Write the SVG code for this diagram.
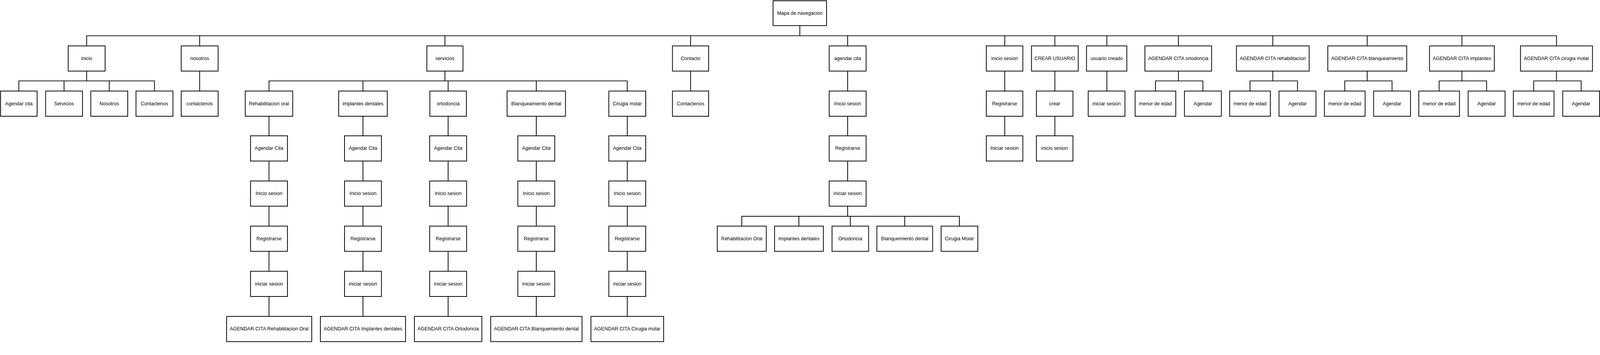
<svg xmlns="http://www.w3.org/2000/svg" width="4247" height="910" viewBox="0 0 4247 910" preserveAspectRatio="xMinYMin meet">
<style>
svg{width:100vw;height:100vh}
.n rect{fill:#fff;stroke:#000;stroke-width:2}
.n text{font-family:"Liberation Sans",Arial,sans-serif;font-size:13px;fill:#000;text-anchor:middle;dominant-baseline:central}
#connectors path{fill:none;stroke:#000;stroke-width:2}
</style>
<rect width="4247" height="910" fill="#fff"/>
<g id="connectors">
<path d="M2123 68V95M230 122V95H4131.5V122M530 95V122M1181 95V122M1833 95V122M2250 95V122M2667 95V122M2800 95V122M2938 95V122M3128 95V122M3378.5 95V122M3629 95V122M3880.5 95V122"/>
<path d="M230 188V215M50 242V215H410V242M170 215V242M290 215V242"/>
<path d="M530 188V242"/>
<path d="M1181 188V215M714 242V215H1665V242M963.5 215V242M1189.5 215V242M1423.5 215V242"/>
<path d="M714 308V841M963.5 308V841M1189.5 308V841M1423.5 308V841M1665 308V841"/>
<path d="M1833 188V242"/>
<path d="M2250 188V575M1969 601V575H2546.5V601M2120.5 575V601M2257 575V601M2401.5 575V601"/>
<path d="M2667 188V361M2800 188V361M2938 188V242"/>
<path d="M3128 188V215M3067 242V215H3193V242"/>
<path d="M3378.5 188V215M3318 242V215H3444V242"/>
<path d="M3629 188V215M3569.5 242V215H3695V242"/>
<path d="M3880.5 188V215M3820 242V215H3946V242"/>
<path d="M4131.5 188V215M4071 242V215H4197V242"/>
</g>
<g id="root" class="n"><rect x="2052" y="2" width="142" height="66"/><text x="2123" y="35">Mapa de navegacion</text></g>
<g id="inicio" class="n"><rect x="181" y="122" width="98" height="67"/><text x="230" y="155.5">inicio</text></g>
<g id="nosotros" class="n"><rect x="481" y="122" width="98" height="67"/><text x="530" y="155.5">nosotros</text></g>
<g id="servicios" class="n"><rect x="1133" y="122" width="96" height="67"/><text x="1181" y="155.5">servicios</text></g>
<g id="contacto" class="n"><rect x="1785" y="122" width="96" height="67"/><text x="1833" y="155.5">Contacto</text></g>
<g id="agendar-cita" class="n"><rect x="2201" y="122" width="98" height="67"/><text x="2250" y="155.5">agendar cita</text></g>
<g id="inicio-sesion" class="n"><rect x="2618" y="122" width="97" height="67"/><text x="2666.5" y="155.5">inicio sesion</text></g>
<g id="crear-usuario" class="n"><rect x="2738" y="122" width="124" height="67"/><text x="2800" y="155.5">CREAR USUARIO</text></g>
<g id="usuario-creado" class="n"><rect x="2884" y="122" width="107" height="67"/><text x="2937.5" y="155.5">usuario creado</text></g>
<g id="ag-ortodoncia" class="n"><rect x="3039" y="122" width="177" height="67"/><text x="3127.5" y="155.5">AGENDAR CITA ortodoncia</text></g>
<g id="ag-rehabilitacion" class="n"><rect x="3282" y="122" width="193" height="67"/><text x="3378.5" y="155.5">AGENDAR CITA rehabilitacion</text></g>
<g id="ag-blanqueamiento" class="n"><rect x="3524.5" y="122" width="209.5" height="67"/><text x="3629.2" y="155.5">AGENDAR CITA blanqueamiento</text></g>
<g id="ag-implantes" class="n"><rect x="3794.5" y="122" width="172" height="67"/><text x="3880.5" y="155.5">AGENDAR CITA implantes</text></g>
<g id="ag-cirugia" class="n"><rect x="4036" y="122" width="191" height="67"/><text x="4131.5" y="155.5">AGENDAR CITA cirugia molar</text></g>

<g id="i-agendar" class="n"><rect x="1.5" y="242" width="97" height="67"/><text x="50" y="275.5">Agendar cita</text></g>
<g id="i-servicios" class="n"><rect x="121" y="242" width="98" height="67"/><text x="170" y="275.5">Servicios</text></g>
<g id="i-nosotros" class="n"><rect x="241" y="242" width="98" height="67"/><text x="290" y="275.5">Nosotros</text></g>
<g id="i-contactenos" class="n"><rect x="361" y="242" width="98" height="67"/><text x="410" y="275.5">Contactenos</text></g>
<g id="n-contactenos" class="n"><rect x="481" y="242" width="98" height="67"/><text x="530" y="275.5">contactenos</text></g>

<g id="s-rehab" class="n"><rect x="651" y="242" width="126" height="67"/><text x="714" y="275.5">Rehabilitacion oral</text></g>
<g id="s-implantes" class="n"><rect x="899" y="242" width="129" height="67"/><text x="963.5" y="275.5">implantes dentales</text></g>
<g id="s-ortodoncia" class="n"><rect x="1141" y="242" width="97" height="67"/><text x="1189.5" y="275.5">ortodoncia</text></g>
<g id="s-blanq" class="n"><rect x="1346" y="242" width="155" height="67"/><text x="1423.5" y="275.5">Blanqueamiento dental</text></g>
<g id="s-cirugia" class="n"><rect x="1616" y="242" width="98" height="67"/><text x="1665" y="275.5">Cirugia molar</text></g>

<g id="s1-agendar" class="n"><rect x="665" y="361" width="98" height="67"/><text x="714" y="394.5">Agendar Cita</text></g>
<g id="s1-inicio" class="n"><rect x="665" y="481" width="98" height="67"/><text x="714" y="514.5">Inicio sesion</text></g>
<g id="s1-registrarse" class="n"><rect x="665" y="601" width="98" height="67"/><text x="714" y="634.5">Registrarse</text></g>
<g id="s1-iniciar" class="n"><rect x="665" y="721" width="98" height="67"/><text x="714" y="754.5">iniciar sesion</text></g>
<g id="s1-final" class="n"><rect x="601.5" y="841" width="226" height="67"/><text x="714.5" y="874.5">AGENDAR CITA Rehabilitacion Oral</text></g>

<g id="s2-agendar" class="n"><rect x="914.5" y="361" width="98" height="67"/><text x="963.5" y="394.5">Agendar Cita</text></g>
<g id="s2-inicio" class="n"><rect x="914.5" y="481" width="98" height="67"/><text x="963.5" y="514.5">Inicio sesion</text></g>
<g id="s2-registrarse" class="n"><rect x="914.5" y="601" width="98" height="67"/><text x="963.5" y="634.5">Registrarse</text></g>
<g id="s2-iniciar" class="n"><rect x="914.5" y="721" width="98" height="67"/><text x="963.5" y="754.5">iniciar sesion</text></g>
<g id="s2-final" class="n"><rect x="850.5" y="841" width="226" height="67"/><text x="963.5" y="874.5">AGENDAR CITA Implantes dentales</text></g>

<g id="s3-agendar" class="n"><rect x="1140.5" y="361" width="98" height="67"/><text x="1189.5" y="394.5">Agendar Cita</text></g>
<g id="s3-inicio" class="n"><rect x="1140.5" y="481" width="98" height="67"/><text x="1189.5" y="514.5">Inicio sesion</text></g>
<g id="s3-registrarse" class="n"><rect x="1140.5" y="601" width="98" height="67"/><text x="1189.5" y="634.5">Registrarse</text></g>
<g id="s3-iniciar" class="n"><rect x="1140.5" y="721" width="98" height="67"/><text x="1189.5" y="754.5">iniciar sesion</text></g>
<g id="s3-final" class="n"><rect x="1100" y="841" width="179" height="67"/><text x="1189.5" y="874.5">AGENDAR CITA Ortodoncia</text></g>

<g id="s4-agendar" class="n"><rect x="1374.5" y="361" width="98" height="67"/><text x="1423.5" y="394.5">Agendar Cita</text></g>
<g id="s4-inicio" class="n"><rect x="1374.5" y="481" width="98" height="67"/><text x="1423.5" y="514.5">Inicio sesion</text></g>
<g id="s4-registrarse" class="n"><rect x="1374.5" y="601" width="98" height="67"/><text x="1423.5" y="634.5">Registrarse</text></g>
<g id="s4-iniciar" class="n"><rect x="1374.5" y="721" width="98" height="67"/><text x="1423.5" y="754.5">iniciar sesion</text></g>
<g id="s4-final" class="n"><rect x="1302.5" y="841" width="242.5" height="67"/><text x="1423.7" y="874.5">AGENDAR CITA Blanquemiento dental</text></g>

<g id="s5-agendar" class="n"><rect x="1616" y="361" width="98" height="67"/><text x="1665" y="394.5">Agendar Cita</text></g>
<g id="s5-inicio" class="n"><rect x="1616" y="481" width="98" height="67"/><text x="1665" y="514.5">Inicio sesion</text></g>
<g id="s5-registrarse" class="n"><rect x="1616" y="601" width="98" height="67"/><text x="1665" y="634.5">Registrarse</text></g>
<g id="s5-iniciar" class="n"><rect x="1616" y="721" width="98" height="67"/><text x="1665" y="754.5">iniciar sesion</text></g>
<g id="s5-final" class="n"><rect x="1568.5" y="841" width="193" height="67"/><text x="1665" y="874.5">AGENDAR CITA Cirugia molar</text></g>

<g id="c-contactenos" class="n"><rect x="1785" y="242" width="96" height="67"/><text x="1833" y="275.5">Contactenos</text></g>

<g id="a-inicio" class="n"><rect x="2201" y="242" width="98" height="67"/><text x="2250" y="275.5">Inicio sesion</text></g>
<g id="a-registrarse" class="n"><rect x="2201" y="361" width="98" height="67"/><text x="2250" y="394.5">Registrarse</text></g>
<g id="a-iniciar" class="n"><rect x="2201" y="481" width="98" height="67"/><text x="2250" y="514.5">iniciar sesion</text></g>
<g id="a-rehab" class="n"><rect x="1904" y="601" width="130" height="67"/><text x="1969" y="634.5">Rehabilitacion Oral</text></g>
<g id="a-implantes" class="n"><rect x="2056" y="601" width="129.5" height="67"/><text x="2120.7" y="634.5">Implantes dentales</text></g>
<g id="a-ortodoncia" class="n"><rect x="2208.5" y="601" width="97" height="67"/><text x="2257" y="634.5">Ortodoncia</text></g>
<g id="a-blanq" class="n"><rect x="2327.5" y="601" width="148" height="67"/><text x="2401.5" y="634.5">Blanquemiento dental</text></g>
<g id="a-cirugia" class="n"><rect x="2498" y="601" width="97.5" height="67"/><text x="2546.7" y="634.5">Cirugia Molar</text></g>

<g id="is-registrarse" class="n"><rect x="2618" y="242" width="97" height="67"/><text x="2666.5" y="275.5">Registrarse</text></g>
<g id="is-iniciar" class="n"><rect x="2618" y="361" width="97" height="67"/><text x="2666.5" y="394.5">Iniciar sesion</text></g>
<g id="cu-crear" class="n"><rect x="2751" y="242" width="97" height="67"/><text x="2799.5" y="275.5">crear</text></g>
<g id="cu-inicio" class="n"><rect x="2751" y="361" width="97" height="67"/><text x="2799.5" y="394.5">inicio sesion</text></g>
<g id="uc-iniciar" class="n"><rect x="2888.5" y="242" width="97.5" height="67"/><text x="2937.2" y="275.5">iniciar sesion</text></g>

<g id="ort-menor" class="n"><rect x="3013" y="242" width="108" height="67"/><text x="3067" y="275.5">menor de edad</text></g>
<g id="ort-agendar" class="n"><rect x="3144" y="242" width="98" height="67"/><text x="3193" y="275.5">Agendar</text></g>
<g id="reh-menor" class="n"><rect x="3264" y="242" width="108" height="67"/><text x="3318" y="275.5">menor de edad</text></g>
<g id="reh-agendar" class="n"><rect x="3395" y="242" width="98" height="67"/><text x="3444" y="275.5">Agendar</text></g>
<g id="bla-menor" class="n"><rect x="3515.5" y="242" width="108" height="67"/><text x="3569.5" y="275.5">menor de edad</text></g>
<g id="bla-agendar" class="n"><rect x="3646" y="242" width="98" height="67"/><text x="3695" y="275.5">Agendar</text></g>
<g id="imp-menor" class="n"><rect x="3766" y="242" width="108" height="67"/><text x="3820" y="275.5">menor de edad</text></g>
<g id="imp-agendar" class="n"><rect x="3897" y="242" width="98" height="67"/><text x="3946" y="275.5">Agendar</text></g>
<g id="cir-menor" class="n"><rect x="4017" y="242" width="108" height="67"/><text x="4071" y="275.5">menor de edad</text></g>
<g id="cir-agendar" class="n"><rect x="4148" y="242" width="98" height="67"/><text x="4197" y="275.5">Agendar</text></g>
</svg>
